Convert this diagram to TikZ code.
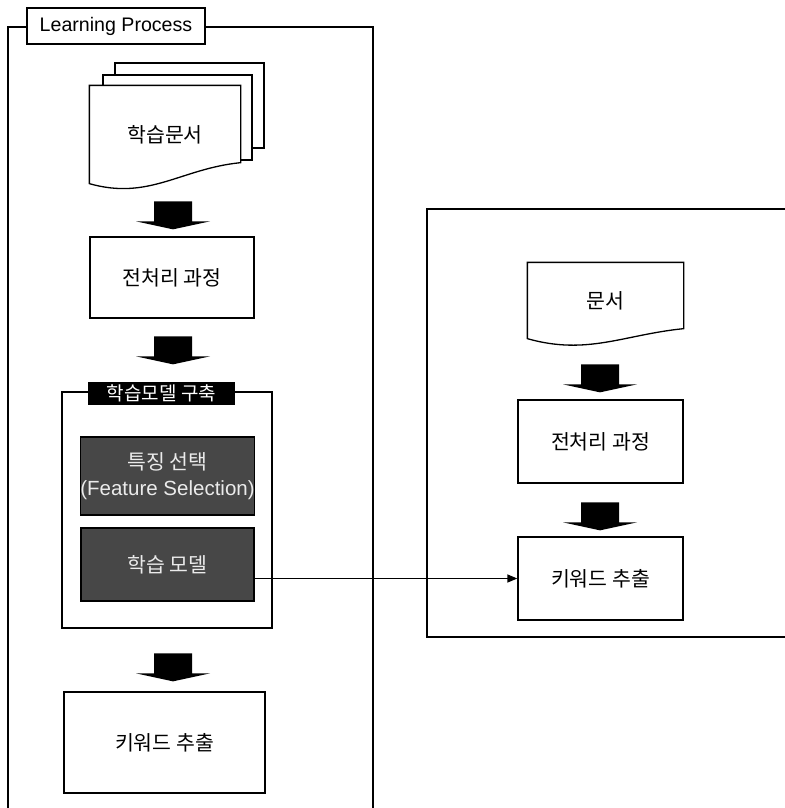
\documentclass[tikz,border=0pt]{standalone}
\usepackage{fontspec}
\setmainfont{Liberation Sans}
\newfontfamily\kr{Noto Sans CJK KR}
\usetikzlibrary{calc,arrows.meta}

% document sheet with wavy bottom, text on top
\newcommand{\docshape}[3]{%
  \draw[fill=white] (#1.north west) -- (#1.north east) -- ($(#1.south east)+(0,-#2)$)
    .. controls +(-60,6) and +(60,17) .. (#1.south west) -- cycle;
  \node[doc] (#1-t) at (#1) {#3};}
% thick block arrow, tip #2 above the point #1
\newcommand{\blockarr}[2]{%
  \fill ($(#1)+(-19,-28-#2)$) -- ++(38,0) -- ++(0,20) -- ++(18,0) -- ++(-37,8)
    -- ++(-37,-8) -- ++(18,0) -- cycle;}

\begin{document}
\begin{tikzpicture}[x=1pt,y=-1pt,line width=1.3pt,
    box/.style = {draw, fill=white, inner sep=0pt, font=\kr\fontsize{20.5}{24}\selectfont},
    doc/.style = {inner sep=0pt, font=\kr\fontsize{20.5}{24}\selectfont},
    page/.style = {draw, fill=white, inner sep=0pt, minimum width=149pt, minimum height=85pt},
    dark/.style = {draw, fill=black!72, text=white!92!black, inner sep=0pt, align=center,
                   minimum width=173pt, font=\kr\fontsize{20.5}{26}\selectfont},
    blk/.style = {fill=black, text=white, inner sep=0pt, minimum width=147pt,
                  minimum height=23pt, font=\kr\fontsize{19}{20}\selectfont},
    title/.style = {draw, fill=white, inner sep=0pt, minimum width=178pt,
                    minimum height=36pt, font=\fontsize{19.6}{22}\selectfont}]

    \useasboundingbox (0,0) rectangle (784,808);
    \coordinate (colL) at (173,0);
    \coordinate (colR) at (600,0);

    % learning process
    \draw (8,830) -- (8,27) -- (373,27) -- (373,830);
    \node[title] (lp) at (116,26) {Learning Process};

    \node[page] (pg3) at (189.5,105.5) {};
    \node[page] (pg2) at (177.5,117.5) {};
    \node[doc, minimum width=150pt, minimum height=97pt] (doc1) at (165,134.5) {};
    \docshape{doc1}{21}{학습문서}

    \node[box, minimum width=164pt, minimum height=81pt] (pre1) at (172,277.5) {전처리 과정};

    \node[draw, minimum width=210pt, minimum height=236pt] (build) at (167,510) {};
    \node[blk] (buildlbl) at (161.5,393.5) {학습모델 구축};
    \node[dark, minimum height=78pt] (feat) at (167.5,476) {특징 선택\\{\normalfont (Feature Selection)}};
    \node[dark, minimum height=73pt] (model) at (167.5,564.5) {학습 모델};

    \node[box, minimum width=201pt, minimum height=101pt] (kw1) at (164.5,742.5) {키워드 추출};

    \blockarr{pre1.north -| colL}{7}
    \blockarr{buildlbl.north -| colL}{17}
    \blockarr{kw1.north -| colL}{10}

    % keyword extraction
    \draw (800,209) -- (427,209) -- (427,637) -- (800,637);
    \node[doc, minimum width=155pt, minimum height=75pt] (doc2) at (605.5,300.5) {};
    \docshape{doc2}{10}{문서}
    \node[box, minimum width=165pt, minimum height=83pt] (pre2) at (600.5,441.5) {전처리 과정};
    \node[box, minimum width=165pt, minimum height=83pt] (kw2) at (600.5,578.5) {키워드 추출};

    \blockarr{pre2.north -| colR}{7}
    \blockarr{kw2.north -| colR}{6}

    \draw[-{Triangle[length=10pt,width=8pt]}] (model.east |- kw2.west) -- (kw2.west);

\end{tikzpicture}
\end{document}
